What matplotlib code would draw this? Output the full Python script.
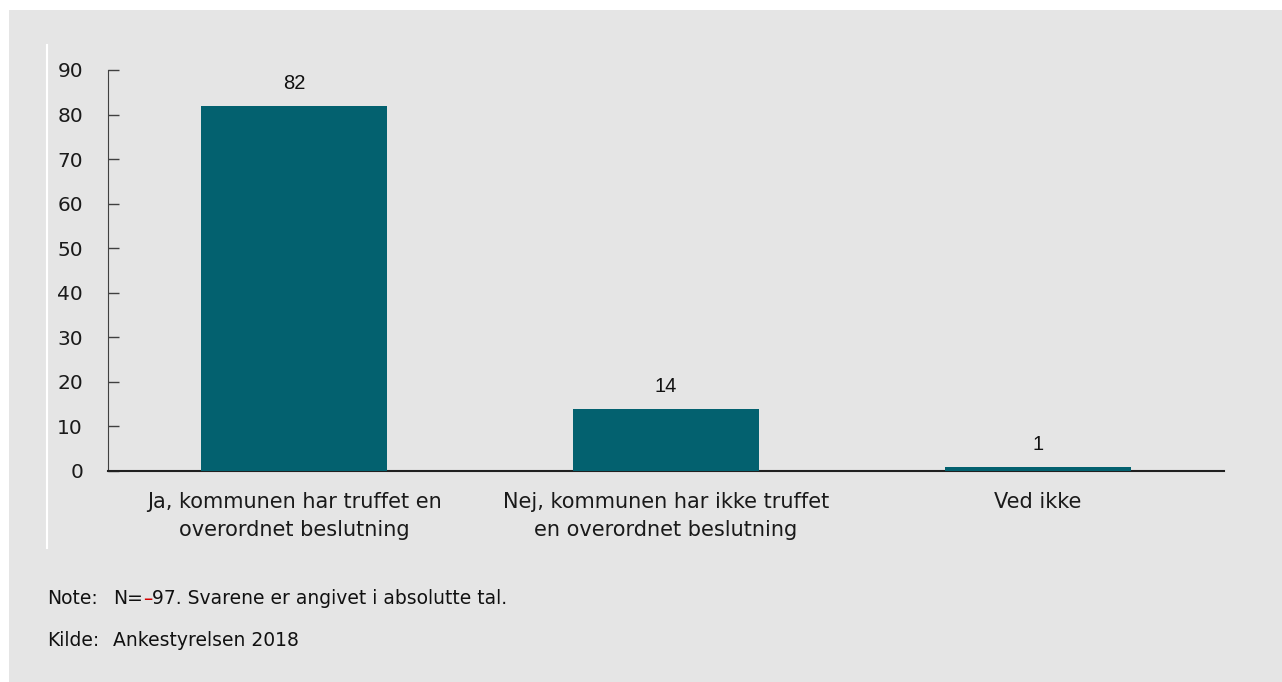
import matplotlib
matplotlib.use("Agg")
import matplotlib.pyplot as plt
from matplotlib.patches import Rectangle
from matplotlib.lines import Line2D

categories = [
    "Ja, kommunen har truffet en\noverordnet beslutning",
    "Nej, kommunen har ikke truffet\nen overordnet beslutning",
    "Ved ikke",
]
values = [82, 14, 1]
yticks = [0, 10, 20, 30, 40, 50, 60, 70, 80, 90]
note_parts = ["N=", "\u2013", "97. Svarene er angivet i absolutte tal."]
source_text = "Ankestyrelsen 2018"

plt.rcParams["font.family"] = ["DejaVu Sans"]

W, H = 1282, 682
BG = "#e5e5e5"
BAR = "#03616f"
TXT = "#111111"

fig = plt.figure(figsize=(W / 100, H / 100), dpi=100, facecolor="white")

# grey panel with a thin white margin on top and left
fig.patches.append(Rectangle((9 / W, 0), 1 - 9 / W, 1 - 10 / H, transform=fig.transFigure,
                             facecolor=BG, edgecolor="none", zorder=-10))
fig.lines.append(Line2D([47 / W, 47 / W], [1 - 45 / H, 1 - 548 / H], transform=fig.transFigure,
                        color="white", linewidth=1.5))

ax = fig.add_axes([108 / W, (H - 471) / H, (1224 - 108) / W, (471 - 70) / H])
ax.set_facecolor(BG)

x = list(range(len(categories)))
ax.bar(x, values, width=0.5, color=BAR, zorder=3)
ax.set_xlim(-0.5, len(categories) - 0.5)
ax.set_ylim(0, 90)
ax.set_yticks(yticks)

for xi, v in zip(x, values):
    ax.annotate(str(v), (xi, v), xytext=(0, 9), textcoords="offset points",
                ha="center", va="bottom", fontsize=14.5, family="Liberation Sans", color=TXT)

ax.set_xticks(x)
ax.set_xticklabels(categories, fontsize=15, color="#1a1a1a", linespacing=1.5)
ax.tick_params(axis="x", length=0, pad=15)
ax.tick_params(axis="y", direction="in", length=8, width=1, color="#404040",
               labelsize=14.5, labelcolor="#1a1a1a", pad=18)

for side in ("top", "right"):
    ax.spines[side].set_visible(False)
ax.spines["left"].set_color("#404040")
ax.spines["bottom"].set_color("#202020")
ax.spines["bottom"].set_linewidth(1.5)

# footnotes
fig.text(47 / W, 1 - 599 / H, "Note:", fontsize=13.5, va="center", color=TXT)
fig.text(47 / W, 1 - 640 / H, "Kilde:", fontsize=13.5, va="center", color=TXT)
fig.text(113 / W, 1 - 640 / H, source_text, fontsize=13.5, va="center", color=TXT)

renderer = fig.canvas.get_renderer()
xpos = 113
for part, col in zip(note_parts, [TXT, "#d40000", TXT]):
    t = fig.text(xpos / W, 1 - 599 / H, part, fontsize=13.5, va="center", color=col)
    xpos += t.get_window_extent(renderer).width

fig.savefig("out.png", dpi=100, facecolor="white")
